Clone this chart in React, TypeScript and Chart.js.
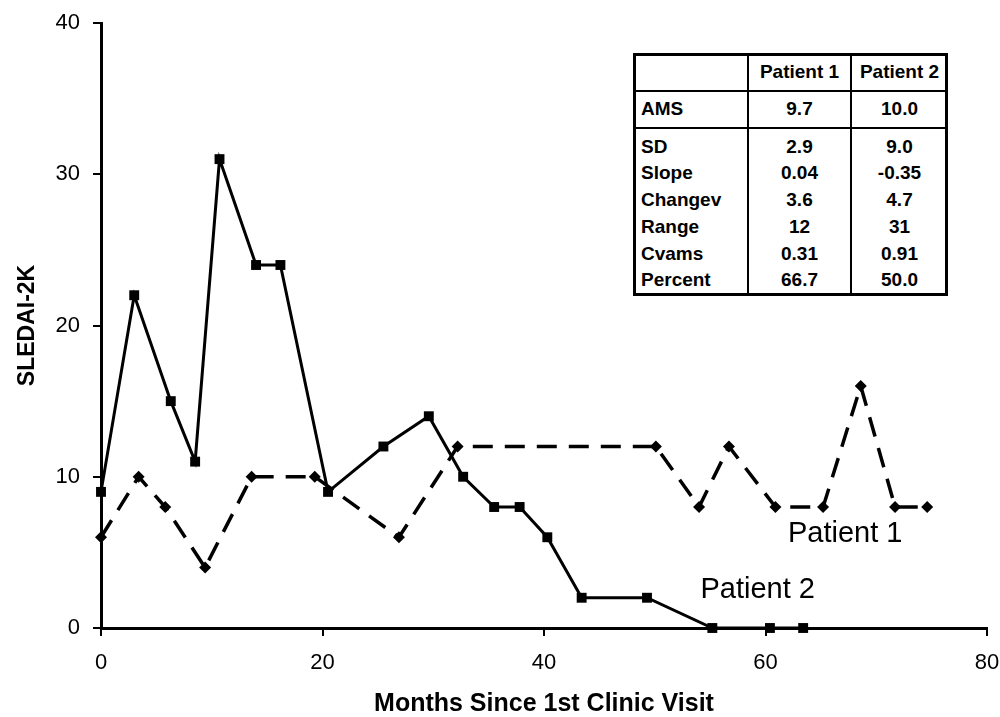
import React, { useEffect, useRef } from "react";
import { Chart, registerables } from "chart.js";

Chart.register(...registerables);

// ---- data ----
const patient2Months = [0, 3, 6.3, 8.5, 10.7, 14, 16.2, 20.5, 25.5, 29.6, 32.7, 35.5, 37.8, 40.3, 43.4, 49.3, 55.2, 60.4, 63.4];
const patient2Scores = [9, 22, 15, 11, 31, 24, 24, 9, 12, 14, 10, 8, 8, 6, 2, 2, 0, 0, 0];
const patient1Months = [0, 3.4, 5.8, 9.4, 13.6, 19.3, 26.9, 32.2, 50.1, 54.0, 56.7, 60.9, 65.2, 68.6, 71.7, 74.6];
const patient1Scores = [6, 10, 8, 4, 10, 10, 6, 12, 12, 8, 12, 8, 8, 16, 8, 8];

const labelTexts = ["Patient 1", "Patient 2"];
const labelMonths = [67.2, 59.3];
const labelScores = [6.2, 2.5];

const tableHeader = ["", "Patient 1", "Patient 2"];
const tableRowNames = ["AMS", "SD", "Slope", "Changev", "Range", "Cvams", "Percent"];
const tablePatient1 = ["9.7", "2.9", "0.04", "3.6", "12", "0.31", "66.7"];
const tablePatient2 = ["10.0", "9.0", "-0.35", "4.7", "31", "0.91", "50.0"];

const xTitle = "Months Since 1st Clinic Visit";
const yTitle = "SLEDAI-2K";

const FONT = "'Liberation Sans', Arial, Helvetica, sans-serif";

const labelPlugin = {
  id: "patientLabels",
  afterDatasetsDraw(chart: any) {
    const { ctx, scales } = chart;
    ctx.save();
    ctx.fillStyle = "#000";
    ctx.font = `29px ${FONT}`;
    ctx.textAlign = "center";
    ctx.textBaseline = "middle";
    labelTexts.forEach((t, i) => {
      ctx.fillText(t, scales.x.getPixelForValue(labelMonths[i]), scales.y.getPixelForValue(labelScores[i]));
    });
    ctx.restore();
  },
};

function ChartCanvas() {
  const ref = useRef<HTMLCanvasElement>(null);
  useEffect(() => {
    if (!ref.current) return;
    const chart = new Chart(ref.current, {
      type: "scatter",
      data: {
        datasets: [
          {
            label: "Patient 2",
            data: patient2Months.map((m, i) => ({ x: m, y: patient2Scores[i] })),
            showLine: true,
            borderColor: "#000",
            backgroundColor: "#000",
            borderWidth: 3,
            pointStyle: "rect",
            pointRadius: 7,
            pointBorderWidth: 0,
            clip: false as any,
          },
          {
            label: "Patient 1",
            data: patient1Months.map((m, i) => ({ x: m, y: patient1Scores[i] })),
            showLine: true,
            borderColor: "#000",
            backgroundColor: "#000",
            borderWidth: 3.5,
            borderDash: [20, 12],
            pointStyle: "rectRot",
            pointRadius: 6,
            pointBorderWidth: 0,
            clip: false as any,
          },
        ],
      },
      options: {
        responsive: false,
        animation: false,
        layout: { padding: { top: 23, right: 13, left: 0, bottom: 0 } },
        plugins: { legend: { display: false }, tooltip: { enabled: false } },
        scales: {
          x: {
            type: "linear",
            min: 0,
            max: 80,
            afterFit: (s: any) => { s.height = 89; s.paddingRight = 0; s.paddingLeft = 0; },
            border: { display: true, color: "#000", width: 3 },
            grid: { display: true, drawOnChartArea: false, drawTicks: true, tickLength: 8, color: "#000", lineWidth: 2 },
            ticks: { stepSize: 20, color: "#000", font: { family: FONT, size: 22 }, padding: 14 },
            title: { display: true, text: xTitle, color: "#000", font: { family: FONT, size: 25, weight: "bold", lineHeight: 1 }, padding: { top: 0, bottom: 0 } },
          },
          y: {
            type: "linear",
            min: 0,
            max: 40,
            afterFit: (s: any) => { s.width = 101; s.paddingTop = 0; s.paddingBottom = 0; },
            border: { display: true, color: "#000", width: 3 },
            grid: { display: true, drawOnChartArea: false, drawTicks: true, tickLength: 8, color: "#000", lineWidth: 2 },
            ticks: { stepSize: 10, color: "#000", font: { family: FONT, size: 22 }, padding: 13 },
            title: { display: true, text: yTitle, color: "#000", font: { family: FONT, size: 23, weight: "bold", lineHeight: 1.2 }, padding: { top: 14, bottom: 0 } },
          },
        },
      },
      plugins: [labelPlugin],
    });
    return () => chart.destroy();
  }, []);
  return <canvas ref={ref} width={1000} height={717} style={{ position: "absolute", left: 0, top: 0 }} />;
}

function StatsTable() {
  const left = 633, right = 948, top = 53, bottom = 296;
  const col1 = 748, col2 = 851;
  const hLine1 = 91, hLine2 = 128;
  const rowCenters = [109, 147, 173, 200, 227, 254, 280];
  const headerCenter = 72;
  const txt: React.CSSProperties = {
    position: "absolute",
    fontFamily: FONT,
    fontWeight: "bold",
    fontSize: 19,
    lineHeight: "22px",
    height: 22,
    whiteSpace: "nowrap",
    color: "#000",
  };
  const items: React.ReactNode[] = [];
  [1, 2].forEach((c) => {
    const l = c === 1 ? col1 : col2;
    const r = c === 1 ? col2 : right;
    items.push(
      <div key={"h" + c} style={{ ...txt, left: l, width: r - l, textAlign: "center", top: headerCenter - 11 }}>{tableHeader[c]}</div>
    );
  });
  tableRowNames.forEach((name, i) => {
    const y = rowCenters[i] - 11;
    items.push(<div key={"n" + i} style={{ ...txt, left: 641, top: y }}>{name}</div>);
    items.push(<div key={"a" + i} style={{ ...txt, left: col1, width: col2 - col1, textAlign: "center", top: y }}>{tablePatient1[i]}</div>);
    items.push(<div key={"b" + i} style={{ ...txt, left: col2, width: right - col2, textAlign: "center", top: y }}>{tablePatient2[i]}</div>);
  });
  const line = (k: string, l: number, t: number, w: number, h: number) => (
    <div key={k} style={{ position: "absolute", left: l, top: t, width: w, height: h, background: "#000" }} />
  );
  return (
    <>
      <div style={{ position: "absolute", left, top, width: right - left, height: bottom - top, border: "3px solid #000", boxSizing: "border-box", background: "#fff" }} />
      {line("v1", col1 - 1, top, 2, bottom - top)}
      {line("v2", col2 - 1, top, 2, bottom - top)}
      {line("h1", left, hLine1 - 1, right - left, 2)}
      {line("h2", left, hLine2 - 1, right - left, 2)}
      {items}
    </>
  );
}

export default function App() {
  return (
    <div style={{ position: "absolute", left: 0, top: 0, width: 1000, height: 717, background: "#fff", overflow: "hidden" }}>
      <ChartCanvas />
      <StatsTable />
    </div>
  );
}
